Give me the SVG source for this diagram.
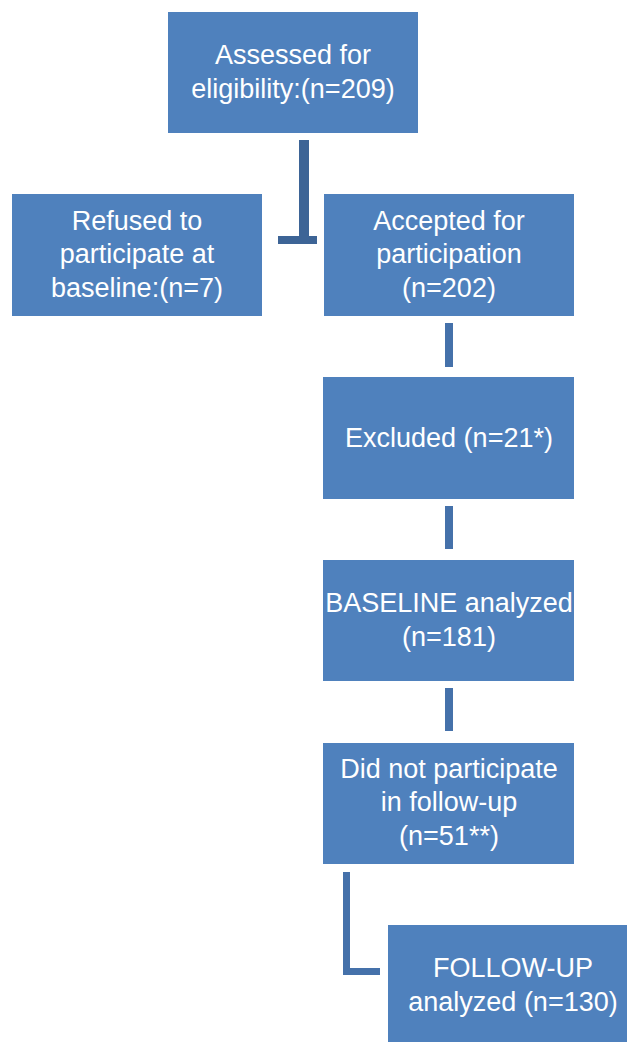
<svg xmlns="http://www.w3.org/2000/svg" width="627" height="1042" viewBox="0 0 627 1042">
<style>
.box{fill:#4F81BD}
.t{font-family:"Liberation Sans",Arial,sans-serif;font-size:27px;fill:#FFFFFF;text-anchor:middle}
.c{fill:#4571AA}
.cd{fill:#3D6496}
</style>
<rect width="627" height="1042" fill="#FFFFFF"/>
<g id="connectors">
<rect class="cd" x="299" y="140" width="10" height="103"/>
<rect class="cd" x="278" y="236" width="39" height="8"/>
<rect class="c" x="445" y="323" width="8" height="44"/>
<rect class="c" x="445" y="506" width="8" height="43"/>
<rect class="c" x="445" y="688" width="8" height="43"/>
<path class="c" d="M343 872 H350 V968 H380 V975 H343 Z"/>
</g>
<g id="assessed">
<rect class="box" x="168" y="12" width="250" height="121"/>
<text class="t" x="293" y="64">Assessed for</text>
<text class="t" x="293" y="98">eligibility:(n=209)</text>
</g>
<g id="refused">
<rect class="box" x="12" y="194" width="250" height="122"/>
<text class="t" x="137" y="230">Refused to</text>
<text class="t" x="137" y="263">participate at</text>
<text class="t" x="137" y="297">baseline:(n=7)</text>
</g>
<g id="accepted">
<rect class="box" x="324" y="194" width="250" height="122"/>
<text class="t" x="449" y="230">Accepted for</text>
<text class="t" x="449" y="263">participation</text>
<text class="t" x="449" y="297">(n=202)</text>
</g>
<g id="excluded">
<rect class="box" x="323" y="377" width="251" height="122"/>
<text class="t" x="449" y="447">Excluded (n=21*)</text>
</g>
<g id="baseline">
<rect class="box" x="323" y="560" width="251" height="121"/>
<text class="t" x="449" y="612">BASELINE analyzed</text>
<text class="t" x="449" y="646">(n=181)</text>
</g>
<g id="notparticipate">
<rect class="box" x="323" y="743" width="251" height="121"/>
<text class="t" x="449" y="778">Did not participate</text>
<text class="t" x="449" y="811">in follow-up</text>
<text class="t" x="449" y="845">(n=51**)</text>
</g>
<g id="followup">
<rect class="box" x="388" y="925" width="250" height="117"/>
<text class="t" x="513" y="977">FOLLOW-UP</text>
<text class="t" x="513" y="1011">analyzed (n=130)</text>
</g>
</svg>
